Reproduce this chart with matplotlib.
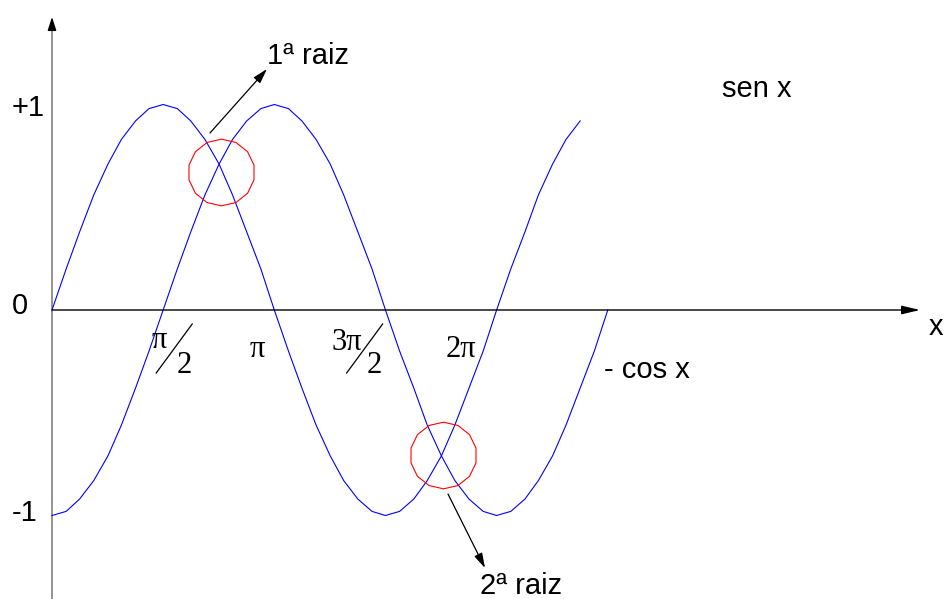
import numpy as np
import matplotlib.pyplot as plt

# sample positions (rad), step pi/16, 0 .. 5pi/2
x_grid = [0.00, 0.20, 0.39, 0.59, 0.79, 0.98, 1.18, 1.37, 1.57, 1.77,
          1.96, 2.16, 2.36, 2.55, 2.75, 2.95, 3.14, 3.34, 3.53, 3.73,
          3.93, 4.12, 4.32, 4.52, 4.71, 4.91, 5.11, 5.30, 5.50, 5.69,
          5.89, 6.09, 6.28, 6.48, 6.68, 6.87, 7.07, 7.26, 7.46, 7.66, 7.85]

sen = [0, .20, .38, .56, .71, .83, .92, .98, 1, .98,
       .92, .83, .71, .56, .38, .20, 0, -.20, -.38, -.56,
       -.71, -.83, -.92, -.98, -1, -.98, -.92, -.83, -.71, -.56,
       -.38, -.20, 0, .20, .38, .56, .71, .83, .92]

menos_cos = [-1, -.98, -.92, -.83, -.71, -.56, -.38, -.20, 0, .20,
             .38, .56, .71, .83, .92, .98, 1, .98, .92, .83,
             .71, .56, .38, .20, 0, -.20, -.38, -.56, -.71, -.83,
             -.92, -.98, -1, -.98, -.92, -.83, -.71, -.56, -.38, -.20, 0]

raizes_x = [2.38, 5.52]
raizes_y = [0.67, -0.705]

ticks = [np.pi / 2, np.pi, 3 * np.pi / 2, 2 * np.pi]

# pixel scale of the drawing
SX = 70.8   # px per rad
SY = 205.5  # px per unit
X0, Y0 = 52, 310


def dx(px):
    return (px - X0) / SX


def dy(py):
    return (Y0 - py) / SY


fig = plt.figure(figsize=(9.48, 5.99), dpi=100)
ax = fig.add_axes([0, 0, 1, 1])
ax.set_xlim(dx(0), dx(948))
ax.set_ylim(dy(599), dy(0))
ax.axis('off')

sans = dict(family='Liberation Sans', fontsize=21, color='black')
serif = dict(family='Liberation Serif', fontsize=22, color='black')

# axes with arrows
ax.plot([0, 0], [dy(599), dy(25)], color='#808080', lw=1.2)
ax.annotate('', xy=(0, dy(17)), xytext=(0, dy(30)),
            arrowprops=dict(arrowstyle='-|>,head_length=8,head_width=2.6',
                            mutation_scale=1, color='black', lw=1,
                            shrinkA=0, shrinkB=0))
ax.annotate('', xy=(dx(920), 0), xytext=(0, 0),
            arrowprops=dict(arrowstyle='-|>,head_length=11,head_width=2.6',
                            mutation_scale=1, color='black', lw=1,
                            shrinkA=0, shrinkB=0))

# curves
ax.plot(x_grid[:len(sen)], sen, color='#0000ff', lw=0.8)
ax.plot(x_grid[:len(menos_cos)], menos_cos, color='#0000ff', lw=0.8)

# roots
ax.plot(raizes_x, raizes_y, linestyle='none', marker=(14, 0, 0),
        markersize=48, mfc='none', mec='#ff0000', mew=0.8)

# root arrows
ax.annotate('', xy=(dx(267), dy(69)), xytext=(dx(210), dy(133)),
            arrowprops=dict(arrowstyle='-|>,head_length=9,head_width=2.6',
                            mutation_scale=1, color='black', lw=0.9,
                            shrinkA=0, shrinkB=0))
ax.annotate('', xy=(dx(485), dy(568)), xytext=(dx(448), dy(494)),
            arrowprops=dict(arrowstyle='-|>,head_length=9,head_width=2.6',
                            mutation_scale=1, color='black', lw=0.9,
                            shrinkA=0, shrinkB=0))
ax.text(dx(267), dy(64), '1ª raiz', ha='left', va='baseline', **sans)
ax.text(dx(480), dy(594), '2ª raiz', ha='left', va='baseline', **sans)

# y labels and names
ax.text(dx(12), dy(116), '+1', ha='left', va='baseline', **sans)
ax.text(dx(12), dy(314), '0', ha='left', va='baseline', **sans)
ax.text(dx(12), dy(521), '-1', ha='left', va='baseline', **sans)
ax.text(dx(929), dy(335), 'x', ha='left', va='baseline', **sans)
ax.text(dx(722), dy(97), 'sen x', ha='left', va='baseline', **sans)
ax.text(dx(604), dy(378), '- cos x', ha='left', va='baseline', **sans)

# x tick labels (serif, fraction with slash)
px = 1 / SX
py = 1 / SY
t1, t2, t3, t4 = ticks
ax.text(t1 - 4 * px, -38 * py, 'π', ha='center', va='baseline', **serif)
ax.plot([t1 - 7 * px, t1 + 29 * px], [-63 * py, -14 * py], color='black', lw=0.9)
ax.text(t1 + 21 * px, -63 * py, '2', ha='center', va='baseline', **serif)

ax.text(t2 - 17 * px, -47 * py, 'π', ha='center', va='baseline', **serif)

ax.text(t3 - 39 * px, -40 * py, '3π', ha='center', va='baseline', **serif)
ax.plot([t3 - 39 * px, t3 - 3 * px], [-63 * py, -14 * py], color='black', lw=0.9)
ax.text(t3 - 11 * px, -63 * py, '2', ha='center', va='baseline', **serif)

ax.text(t4 - 36 * px, -47 * py, '2π', ha='center', va='baseline', **serif)

fig.savefig('out.png', dpi=100)
